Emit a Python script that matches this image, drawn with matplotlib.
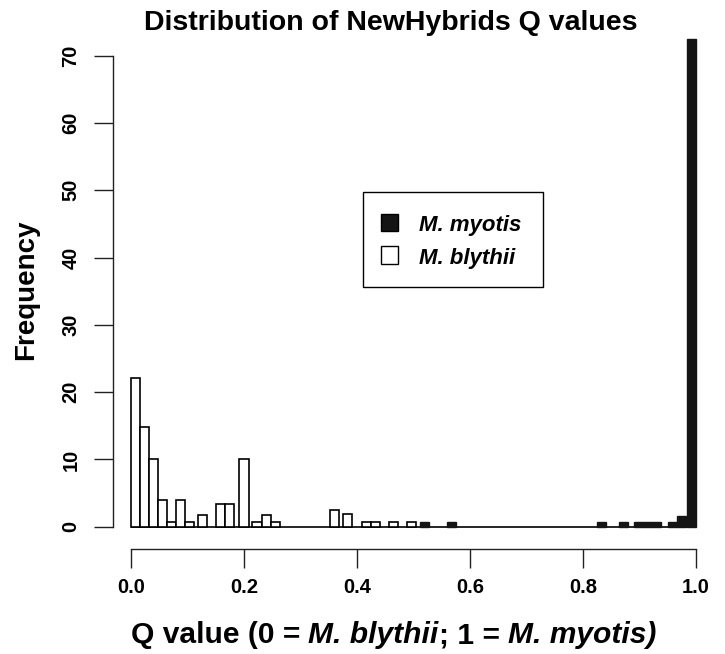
import matplotlib
matplotlib.use("Agg")
import matplotlib.pyplot as plt
from matplotlib.patches import Rectangle

# ---- data ----
blythii_q_left = [0.000, 0.016, 0.032, 0.048, 0.064, 0.080, 0.096, 0.118, 0.151, 0.167,
                  0.192, 0.215, 0.231, 0.247, 0.352, 0.375, 0.409, 0.424, 0.456, 0.488]
blythii_freq = [22.1, 14.8, 10.0, 4.0, 0.7, 4.0, 0.7, 1.8, 3.3, 3.3,
                10.0, 0.7, 1.8, 0.7, 2.5, 1.85, 0.65, 0.65, 0.65, 0.65]
myotis_q_left = [0.511, 0.559, 0.824, 0.863, 0.890, 0.906, 0.922, 0.951, 0.967, 0.984]
myotis_freq = [0.7, 0.7, 0.7, 0.7, 0.7, 0.7, 0.7, 0.7, 1.6, 72.5]
x_ticks = [0.0, 0.2, 0.4, 0.6, 0.8, 1.0]
x_tick_labels = ["0.0", "0.2", "0.4", "0.6", "0.8", "1.0"]
y_ticks = [0, 10, 20, 30, 40, 50, 60, 70]
y_tick_labels = ["0", "10", "20", "30", "40", "50", "60", "70"]
legend_labels = ["M. myotis", "M. blythii"]
legend_colors = ["#151515", "white"]
xlabel_parts = [("Q value (0 = ", "normal"), ("M. blythii", "italic"),
                ("; 1 = ", "normal"), ("M. myotis)", "italic")]
bin_width = 0.016

plt.rcParams['font.family'] = ['Liberation Sans', 'DejaVu Sans']
plt.rcParams['font.weight'] = 'bold'

W, H = 725, 654
fig = plt.figure(figsize=(W / 100, H / 100), dpi=100)


def fx(px):
    return px / W


def fy(py):
    return 1 - py / H


# axes placed in pixel units
x_left_px, x_right_px = 113.3, 718.6
y_bottom_px, y_top_px = 549.3, 22.0
ax = fig.add_axes([fx(x_left_px), fy(y_bottom_px),
                   (x_right_px - x_left_px) / W, (y_bottom_px - y_top_px) / H])
ax.set_xlim(-0.0313, 1.04)
ax.set_ylim(-3.36, 75)

ax.hlines(0, 0, 1, color='black', linewidth=1.2, zorder=1)
ax.bar(blythii_q_left, blythii_freq, width=bin_width, align='edge',
       facecolor='white', edgecolor='black', linewidth=1.2, zorder=2)
ax.bar(myotis_q_left, myotis_freq, width=bin_width, align='edge',
       facecolor='#151515', edgecolor='#151515', linewidth=1.0, zorder=2)

for s in ['top', 'right']:
    ax.spines[s].set_visible(False)
ax.spines['left'].set_bounds(0, 70)
ax.spines['bottom'].set_bounds(0, 1)
for s in ['left', 'bottom']:
    ax.spines[s].set_linewidth(1.0)
    ax.spines[s].set_color('#222222')

ax.set_xticks(x_ticks)
ax.set_xticklabels(x_tick_labels, fontsize=14.5, fontweight='bold')
ax.set_yticks(y_ticks)
ax.set_yticklabels(y_tick_labels, fontsize=14.5, fontweight='bold',
                   rotation=90, va='center')
ax.tick_params(axis='both', length=13.7, width=1.0, color='#222222')
ax.tick_params(axis='x', pad=7)
ax.tick_params(axis='y', pad=10)

fig.text(fx(391), fy(30), 'Distribution of NewHybrids Q values',
         ha='center', va='baseline', fontsize=20.5, fontweight='bold')
fig.text(fx(26), fy(290), 'Frequency', rotation=90,
         ha='center', va='center', fontsize=20, fontweight='bold')

# x label composed of normal / italic pieces
renderer = fig.canvas.get_renderer()
xl_size = 21.6
texts = []
widths = []
for s, style in xlabel_parts:
    t = fig.text(0, fy(643), s, ha='left', va='baseline', fontsize=xl_size,
                 fontweight='bold', fontstyle=style)
    texts.append(t)
    probe = fig.text(0, 0, "|" + s + "|", fontsize=xl_size, fontweight='bold',
                     fontstyle=style)
    bar_probe = fig.text(0, 0, "||", fontsize=xl_size, fontweight='bold',
                         fontstyle=style)
    w = probe.get_window_extent(renderer).width - bar_probe.get_window_extent(renderer).width
    probe.remove()
    bar_probe.remove()
    widths.append(w)
total = sum(widths)
x0 = 393.5 - total / 2
for t, w in zip(texts, widths):
    t.set_x(fx(x0))
    x0 += w

# legend box (drawn in figure pixel layout)
fig.add_artist(Rectangle((fx(362.7), fy(286.7)), (543 - 362.7) / W, (286.7 - 191.7) / H,
                         transform=fig.transFigure, facecolor='white',
                         edgecolor='black', linewidth=1.0))
for i, (lab, col) in enumerate(zip(legend_labels, legend_colors)):
    top = 213.5 + i * 32.5
    fig.add_artist(Rectangle((fx(380.5), fy(top + 17.5)), 17.5 / W, 17.5 / H,
                             transform=fig.transFigure, facecolor=col,
                             edgecolor='black', linewidth=1.0))
    fig.text(fx(419), fy(top + 17.5), lab, ha='left', va='baseline',
             fontsize=16, fontweight='bold', fontstyle='italic')

fig.savefig('out.png', dpi=100)
